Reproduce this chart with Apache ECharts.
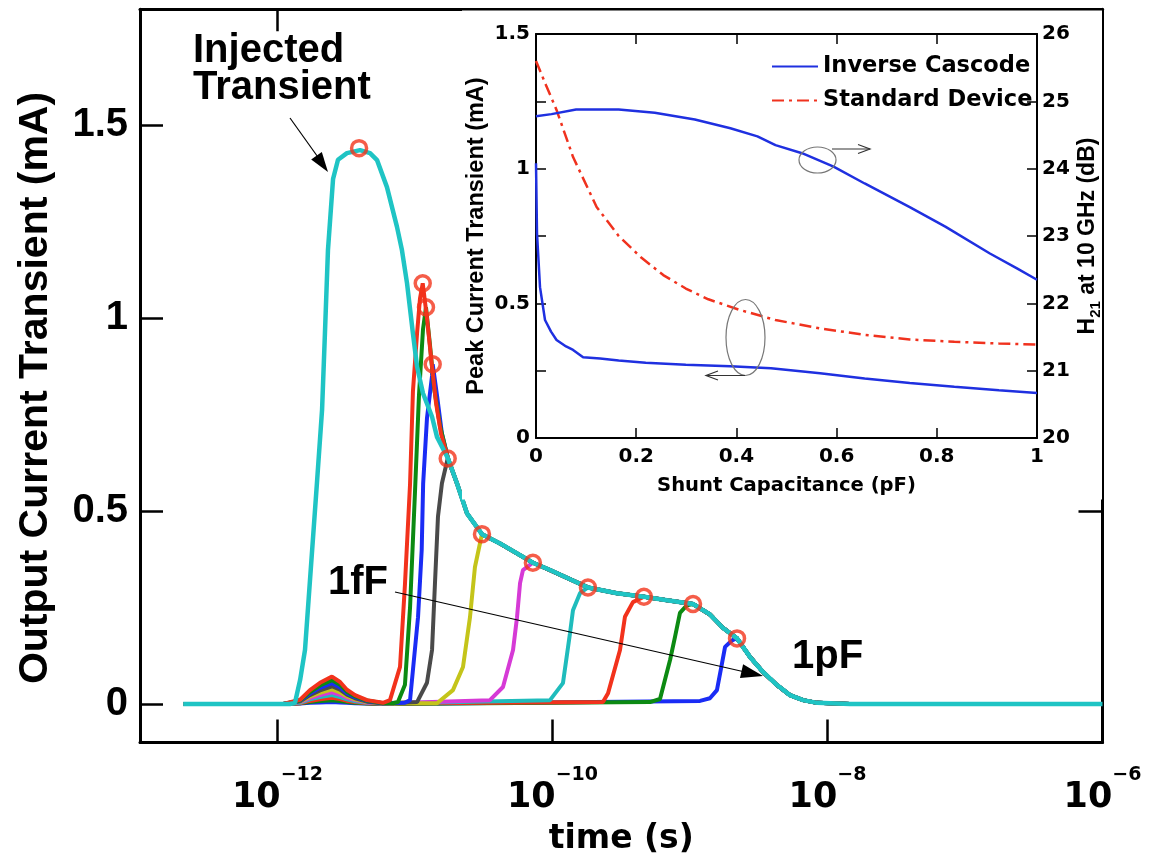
<!DOCTYPE html>
<html><head><meta charset="utf-8">
<script src="https://cdn.jsdelivr.net/npm/echarts/dist/echarts.min.js"></script>
<style>html,body{margin:0;padding:0;background:#fff}#c{width:1163px;height:860px}</style>
</head><body><div id="c"></div>
<script>
// ---------------- main chart data (time in s, current in mA) ----------------
const timeTicks = [1e-12, 1e-10, 1e-8, 0.99999e-6];
const currentTicks = [0, 0.5, 1, 1.5];

const injectedHead = [[2.06e-13,0],[1.23e-12,0],[1.34e-12,0.003],[1.46e-12,0.062],[1.585e-12,0.14],[1.936e-12,0.573],[2.109e-12,0.762],[2.213e-12,0.96],[2.328e-12,1.176],[2.535e-12,1.36],[2.754e-12,1.41],[3.199e-12,1.427],[3.981e-12,1.435],[4.71e-12,1.427],[5.297e-12,1.409],[6.252e-12,1.339],[7.396e-12,1.236],[8.035e-12,1.176],[8.75e-12,1.09],[9.661e-12,0.96],[1.035e-11,0.874],[1.143e-11,0.805],[1.33e-11,0.744],[1.445e-11,0.692]];
const envelopeTail = [[1.738e-11,0.636],[2.018e-11,0.572],[2.388e-11,0.494],[3.069e-11,0.44],[4.15e-11,0.416],[7.211e-11,0.366],[9.594e-11,0.347],[1.811e-10,0.302],[2.944e-10,0.287],[4.624e-10,0.278],[6.808e-10,0.269],[1.052e-9,0.259],[1.396e-9,0.232],[1.738e-9,0.197],[2.198e-9,0.17],[2.729e-9,0.122],[3.396e-9,0.083],[4.295e-9,0.049],[5.333e-9,0.023],[6.637e-9,0.01],[8.395e-9,0.003],[1.459e-8,0]];
const injectedEnd = [[1e-6,0]];
const curveEnd = [[5.12e-8,0]];

const c1 = [[2.06e-13,0],[1.10e-12,0],[1.46e-12,0.011],[1.722e-12,0.036],[2.037e-12,0.055],[2.489e-12,0.071],[2.851e-12,0.057],[3.199e-12,0.037],[3.664e-12,0.023],[4.477e-12,0.010],[5.848e-12,0.003],[6.577e-12,0.01],[7.78e-12,0.096],[8.453e-12,0.31],[9.204e-12,0.57],[9.661e-12,0.81],[1.035e-11,0.96],[1.087e-11,1.05],[1.138e-11,1.09],[1.222e-11,1.0],[1.306e-11,0.9],[1.422e-11,0.78],[1.545e-11,0.70]];
const c2 = [[2.06e-13,0],[1.10e-12,0],[1.46e-12,0.009],[1.722e-12,0.031],[2.037e-12,0.048],[2.489e-12,0.062],[2.851e-12,0.050],[3.199e-12,0.032],[3.664e-12,0.020],[4.477e-12,0.009],[5.848e-12,0.002],[6.918e-12,0.002],[7.516e-12,0.005],[8.453e-12,0.05],[9.204e-12,0.25],[1.0e-11,0.55],[1.069e-11,0.8],[1.143e-11,0.97],[1.202e-11,1.028],[1.285e-11,0.93],[1.374e-11,0.82],[1.521e-11,0.72]];
const c3 = [[2.06e-13,0],[1.10e-12,0],[1.46e-12,0.008],[1.722e-12,0.027],[2.037e-12,0.042],[2.489e-12,0.054],[2.851e-12,0.043],[3.199e-12,0.028],[3.664e-12,0.017],[4.477e-12,0.008],[5.848e-12,0.002],[8.453e-12,0.003],[9.204e-12,0.01],[1.052e-11,0.225],[1.119e-11,0.4],[1.146e-11,0.57],[1.222e-11,0.74],[1.33e-11,0.85],[1.345e-11,0.88],[1.445e-11,0.80],[1.570e-11,0.70]];
const c4 = [[2.06e-13,0],[1.10e-12,0],[1.46e-12,0.007],[1.722e-12,0.023],[2.037e-12,0.035],[2.489e-12,0.046],[2.851e-12,0.037],[3.199e-12,0.024],[3.664e-12,0.015],[4.477e-12,0.006],[5.848e-12,0.002],[1.035e-11,0.005],[1.222e-11,0.055],[1.33e-11,0.14],[1.396e-11,0.31],[1.469e-11,0.485],[1.570e-11,0.572],[1.729e-11,0.636]];
const c5 = [[2.06e-13,0],[1.10e-12,0],[1.46e-12,0.006],[1.722e-12,0.019],[2.037e-12,0.029],[2.489e-12,0.038],[2.851e-12,0.030],[3.199e-12,0.020],[3.664e-12,0.012],[4.477e-12,0.005],[5.848e-12,0.002],[1.445e-11,0.002],[1.888e-11,0.036],[2.234e-11,0.096],[2.512e-11,0.225],[2.729e-11,0.355],[2.972e-11,0.417],[3.069e-11,0.44]];
const c6 = [[2.06e-13,0],[1.10e-12,0],[1.46e-12,0.005],[1.722e-12,0.015],[2.037e-12,0.023],[2.489e-12,0.030],[2.851e-12,0.024],[3.199e-12,0.016],[3.664e-12,0.010],[4.477e-12,0.004],[5.848e-12,0.001],[3.508e-11,0.01],[4.365e-11,0.044],[5.164e-11,0.14],[5.521e-11,0.225],[5.808e-11,0.313],[6.095e-11,0.347],[7.211e-11,0.366]];
const c7 = [[2.06e-13,0],[1.10e-12,0],[1.46e-12,0.003],[1.722e-12,0.012],[2.037e-12,0.018],[2.489e-12,0.023],[2.851e-12,0.018],[3.199e-12,0.012],[3.664e-12,0.007],[4.477e-12,0.003],[5.848e-12,0.001],[9.594e-11,0.01],[1.191e-10,0.054],[1.34e-10,0.183],[1.409e-10,0.243],[1.585e-10,0.287],[1.811e-10,0.302]];
const c8 = [[2.06e-13,0],[1.10e-12,0],[1.46e-12,0.002],[1.722e-12,0.008],[2.037e-12,0.012],[2.489e-12,0.016],[2.851e-12,0.013],[3.199e-12,0.008],[3.664e-12,0.005],[4.477e-12,0.002],[5.848e-12,0.001],[2.328e-10,0.005],[2.535e-10,0.028],[3.097e-10,0.14],[3.365e-10,0.226],[3.846e-10,0.264],[4.624e-10,0.278]];
const c9 = [[2.06e-13,0],[1.10e-12,0],[1.46e-12,0.002],[1.722e-12,0.005],[2.037e-12,0.008],[2.489e-12,0.010],[2.851e-12,0.008],[3.199e-12,0.005],[3.664e-12,0.003],[4.477e-12,0.001],[5.848e-12,0],[5.117e-10,0.005],[6.053e-10,0.013],[7.161e-10,0.114],[7.78e-10,0.174],[8.453e-10,0.236],[9.506e-10,0.256],[1.052e-9,0.259]];
const c10 = [[2.06e-13,0],[1.10e-12,0],[1.46e-12,0.001],[1.722e-12,0.003],[2.037e-12,0.004],[2.489e-12,0.005],[2.851e-12,0.004],[3.199e-12,0.003],[3.664e-12,0.002],[4.477e-12,0.001],[5.848e-12,0],[1.183e-9,0.008],[1.396e-9,0.015],[1.57e-9,0.036],[1.71e-9,0.106],[1.799e-9,0.148],[1.954e-9,0.16],[2.056e-9,0.166],[2.198e-9,0.17]];

const curveHeads = [c1, c2, c3, c4, c5, c6, c7, c8, c9, c10];
const curveColors = ['#f2321c', '#0c8a12', '#1a2cf5', '#4a4a4a', '#c4c41a', '#d63ad6', '#1fbcbc', '#f2321c', '#0c8a12', '#1a2cf5'];

const peakTimes = [3.92e-12, 1.138e-11, 1.202e-11, 1.345e-11, 1.729e-11, 3.069e-11, 7.2e-11, 1.811e-10, 4.624e-10, 1.052e-9, 2.198e-9];
const peakValues = [1.44, 1.09, 1.028, 0.88, 0.636, 0.44, 0.366, 0.302, 0.278, 0.259, 0.17];

// ---------------- inset data ----------------
const capLower = [0, 0.002, 0.008, 0.018, 0.03, 0.041, 0.06, 0.074, 0.094, 0.128, 0.165, 0.219, 0.299, 0.388, 0.469, 0.567, 0.656, 0.746, 0.835, 0.924, 1.0];
const peakLower = [1.02, 0.76, 0.56, 0.438, 0.395, 0.364, 0.34, 0.327, 0.30, 0.295, 0.288, 0.279, 0.272, 0.266, 0.259, 0.24, 0.221, 0.204, 0.19, 0.177, 0.167];
const capUpper = [0, 0.031, 0.08, 0.165, 0.237, 0.317, 0.388, 0.442, 0.478, 0.531, 0.594, 0.656, 0.746, 0.817, 0.906, 0.96, 1.0];
const h21 = [24.78, 24.81, 24.88, 24.88, 24.83, 24.73, 24.6, 24.48, 24.35, 24.23, 24.03, 23.78, 23.43, 23.14, 22.74, 22.52, 22.35];
const capStd = [0, 0.02, 0.041, 0.074, 0.121, 0.165, 0.21, 0.254, 0.299, 0.344, 0.406, 0.478, 0.567, 0.656, 0.746, 0.835, 0.924, 1.0];
const peakStd = [1.40, 1.31, 1.218, 1.043, 0.858, 0.75, 0.67, 0.605, 0.555, 0.515, 0.476, 0.438, 0.407, 0.383, 0.366, 0.357, 0.351, 0.347];

// ---------------- build ----------------
const zip = (xs, ys) => xs.map((x, i) => [x, ys[i]]);
const ARIAL = "'Liberation Sans', Arial, Helvetica, sans-serif";
const DEJA = "'DejaVu Sans', Verdana, sans-serif";

const series = [];
// colored curves: larger capacitance drawn first, so the 1fF curve lies on top
for (let k = curveHeads.length - 1; k >= 0; k--) {
  const head = curveHeads[k];
  const lastT = head[head.length - 1][0];
  const data = head.concat(envelopeTail.filter(p => p[0] > lastT), curveEnd);
  series.push({
    type: 'line', xAxisIndex: 0, yAxisIndex: 0, data: data, symbol: 'none', z: 2,
    lineStyle: { color: curveColors[k], width: 4 }, itemStyle: { color: curveColors[k] }, silent: true
  });
}
series.push({
  type: 'line', xAxisIndex: 0, yAxisIndex: 0, data: injectedHead.concat(envelopeTail, injectedEnd),
  symbol: 'none', z: 2, lineStyle: { color: '#1fc4c4', width: 4.5 }, silent: true
});
series.push({
  type: 'scatter', xAxisIndex: 0, yAxisIndex: 0, data: zip(peakTimes, peakValues), z: 2,
  symbol: 'circle', symbolSize: 15,
  itemStyle: { color: 'rgba(255,255,255,0)', borderColor: '#f3341c', borderWidth: 3.5 }, silent: true
});
// inset series
series.push({
  name: 'Inverse Cascode', type: 'line', xAxisIndex: 2, yAxisIndex: 2, data: zip(capLower, peakLower),
  symbol: 'none', z: 5, lineStyle: { color: '#1f30e0', width: 2.5 }, itemStyle: { color: '#1f30e0' }
});
series.push({
  name: 'Standard Device', type: 'line', xAxisIndex: 2, yAxisIndex: 2, data: zip(capStd, peakStd),
  symbol: 'none', z: 5, lineStyle: { color: '#f0321e', width: 2.5, type: [12, 5, 3, 5] }, itemStyle: { color: '#f0321e' }
});
series.push({
  name: 'Inverse Cascode', type: 'line', xAxisIndex: 2, yAxisIndex: 3, data: zip(capUpper, h21),
  symbol: 'none', z: 5, lineStyle: { color: '#1f30e0', width: 2.5 }, itemStyle: { color: '#1f30e0' }
});

const blk = '#000';
const mainLine = { show: true, onZero: false, lineStyle: { color: blk, width: 3 } };
const insetLine = { show: true, onZero: false, lineStyle: { color: blk, width: 2 } };

const option = {
  animation: false,
  backgroundColor: '#fff',
  grid: [
    { left: 140, top: 9.2, width: 962.5, height: 733.4, outerBoundsMode: 'none', containLabel: false },
    { left: 536, top: 34, width: 501, height: 404, outerBoundsMode: 'none', containLabel: false, z: 4 }
  ],
  legend: {
    z: 8, left: 766, top: 50, orient: 'vertical', itemWidth: 46, itemHeight: 12, itemGap: 11,
    data: ['Inverse Cascode', 'Standard Device'],
    itemStyle: { opacity: 0, borderWidth: 0 },
    textStyle: { fontFamily: DEJA, fontWeight: 'bold', fontSize: 22.5, color: blk },
    selectedMode: false
  },
  xAxis: [
    { type: 'log', gridIndex: 0, logBase: 10, min: 1e-13, max: 1e-6, position: 'bottom',
      axisLine: mainLine, splitLine: { show: false }, minorTick: { show: false },
      axisTick: { show: true, inside: true, length: 23, lineStyle: { color: blk, width: 2.5 }, customValues: timeTicks },
      axisLabel: { show: true, customValues: timeTicks, margin: 23,
        formatter: v => '{b|10}{s|\u2212' + Math.abs(Math.round(Math.log10(v))) + '}',
        rich: {
          b: { fontFamily: DEJA, fontWeight: 'bold', fontSize: 35, color: blk, lineHeight: 64 },
          s: { fontFamily: DEJA, fontWeight: 'bold', fontSize: 19, color: blk, lineHeight: 20, verticalAlign: 'top' }
        } },
      name: 'time (s)', nameLocation: 'middle', nameGap: 80,
      nameTextStyle: { fontFamily: DEJA, fontWeight: 'bold', fontSize: 33, color: blk } },
    { type: 'log', gridIndex: 0, logBase: 10, min: 1e-13, max: 1e-6, position: 'top',
      axisLine: mainLine, splitLine: { show: false }, minorTick: { show: false },
      axisTick: { show: true, inside: true, length: 22, lineStyle: { color: blk, width: 2.5 }, customValues: timeTicks },
      axisLabel: { show: false } },
    { type: 'value', gridIndex: 1, min: 0, max: 1, interval: 0.2, position: 'bottom', z: 4,
      axisLine: insetLine, splitLine: { show: false },
      axisTick: { show: true, inside: true, length: 10, lineStyle: { color: blk, width: 1.5 } },
      axisLabel: { margin: 9, fontFamily: DEJA, fontWeight: 'bold', fontSize: 20, color: blk },
      name: 'Shunt Capacitance (pF)', nameLocation: 'middle', nameGap: 38,
      nameTextStyle: { fontFamily: DEJA, fontWeight: 'bold', fontSize: 19.6, color: blk } },
    { type: 'value', gridIndex: 1, min: 0, max: 1, interval: 0.2, position: 'top', z: 4,
      axisLine: insetLine, splitLine: { show: false },
      axisTick: { show: true, inside: true, length: 10, lineStyle: { color: blk, width: 1.5 } },
      axisLabel: { show: false } }
  ],
  yAxis: [
    { type: 'value', gridIndex: 0, min: -0.1, max: 1.8, position: 'left',
      axisLine: mainLine, splitLine: { show: false },
      axisTick: { show: true, inside: true, length: 23, lineStyle: { color: blk, width: 2.5 }, customValues: currentTicks },
      axisLabel: { customValues: currentTicks, margin: 12, fontFamily: ARIAL, fontWeight: 'bold', fontSize: 40, color: blk,
        formatter: v => String(v) } },
    { type: 'value', gridIndex: 0, min: -0.1, max: 1.8, position: 'right',
      axisLine: mainLine, splitLine: { show: false },
      axisTick: { show: true, inside: true, length: 24, lineStyle: { color: blk, width: 2.5 }, customValues: currentTicks },
      axisLabel: { show: false } },
    { type: 'value', gridIndex: 1, min: 0, max: 1.5, interval: 0.25, position: 'left', z: 4,
      axisLine: insetLine, splitLine: { show: false },
      axisTick: { show: true, inside: true, length: 10, lineStyle: { color: blk, width: 1.5 } },
      axisLabel: { margin: 6, fontFamily: DEJA, fontWeight: 'bold', fontSize: 20, color: blk,
        formatter: v => (Math.abs(v * 2 - Math.round(v * 2)) < 1e-9 ? String(v) : '') },
      name: 'Peak Current Transient (mA)', nameLocation: 'middle', nameGap: 47, nameRotate: 90,
      nameTextStyle: { fontFamily: ARIAL, fontWeight: 'bold', fontSize: 23.5, color: blk } },
    { type: 'value', gridIndex: 1, min: 20, max: 26, interval: 1, position: 'right', z: 4,
      axisLine: insetLine, splitLine: { show: false },
      axisTick: { show: true, inside: true, length: 10, lineStyle: { color: blk, width: 1.5 } },
      axisLabel: { margin: 5, fontFamily: DEJA, fontWeight: 'bold', fontSize: 20, color: blk },
      name: '{t|H}{s|21}{t| at 10 GHz (dB)}', nameLocation: 'middle', nameGap: 36, nameRotate: 90,
      nameTextStyle: { color: blk, rich: {
        t: { fontFamily: ARIAL, fontWeight: 'bold', fontSize: 23, color: blk, lineHeight: 30 },
        s: { fontFamily: ARIAL, fontWeight: 'bold', fontSize: 15, color: blk, lineHeight: 15, verticalAlign: 'bottom' }
      } } }
  ],
  series: series
};

const chart = echarts.init(document.getElementById('c'), null, { renderer: 'canvas' });
chart.setOption(option);

// ---------------- annotations ----------------
function arrowHead(x1, y1, x2, y2, len, half) {
  const a = Math.atan2(y2 - y1, x2 - x1);
  const bx = x2 - len * Math.cos(a), by = y2 - len * Math.sin(a);
  return [[x2, y2], [bx + half * Math.sin(a), by - half * Math.cos(a)], [bx - half * Math.sin(a), by + half * Math.cos(a)]];
}
function openHead(x1, y1, x2, y2, len, half) {
  const p = arrowHead(x1, y1, x2, y2, len, half);
  return [p[1], p[0], p[2]];
}
const labelFont = 'bold 40px ' + ARIAL;
chart.setOption({
  graphic: { elements: [
    { type: 'rect', z: 3, silent: true, shape: { x: 462, y: 10.5, width: 640, height: 489 }, style: { fill: '#fff' } },
    // main y title
    { type: 'text', z: 10, x: 36, y: 388, rotation: Math.PI / 2,
      style: { text: 'Output Current Transient (mA)', font: 'bold 41px ' + ARIAL, fill: blk, align: 'center', verticalAlign: 'middle' } },
    // Injected transient label + arrow
    { type: 'text', z: 10, x: 193, y: 51, style: { text: 'Injected', font: labelFont, fill: blk, align: 'left', verticalAlign: 'middle' } },
    { type: 'text', z: 10, x: 193, y: 88, style: { text: 'Transient', font: labelFont, fill: blk, align: 'left', verticalAlign: 'middle' } },
    { type: 'line', z: 10, shape: { x1: 290, y1: 118, x2: 320, y2: 160 }, style: { stroke: blk, lineWidth: 1.2 } },
    { type: 'polygon', z: 10, shape: { points: arrowHead(290, 118, 328, 172, 20, 6.5) }, style: { fill: blk } },
    // 1fF -> 1pF
    { type: 'text', z: 10, x: 328, y: 583, style: { text: '1fF', font: labelFont, fill: blk, align: 'left', verticalAlign: 'middle' } },
    { type: 'text', z: 10, x: 792, y: 657, style: { text: '1pF', font: labelFont, fill: blk, align: 'left', verticalAlign: 'middle' } },
    { type: 'line', z: 10, shape: { x1: 395, y1: 592, x2: 745, y2: 672 }, style: { stroke: blk, lineWidth: 1.2 } },
    { type: 'polygon', z: 10, shape: { points: arrowHead(395, 592, 763, 676, 22, 7) }, style: { fill: blk } },
    // inset ellipses and arrows
    { type: 'ellipse', z: 9, shape: { cx: 817.5, cy: 160, rx: 18.5, ry: 13 }, style: { fill: null, stroke: '#777', lineWidth: 1.2 } },
    { type: 'line', z: 9, shape: { x1: 832, y1: 149, x2: 870, y2: 149 }, style: { stroke: '#333', lineWidth: 1.2 } },
    { type: 'polyline', z: 9, shape: { points: openHead(832, 149, 870, 149, 12, 4.5) }, style: { stroke: '#333', lineWidth: 1.2, fill: null } },
    { type: 'ellipse', z: 9, shape: { cx: 745.5, cy: 337.5, rx: 19.5, ry: 38 }, style: { fill: null, stroke: '#777', lineWidth: 1.2 } },
    { type: 'line', z: 9, shape: { x1: 745, y1: 375.5, x2: 706, y2: 375.5 }, style: { stroke: '#333', lineWidth: 1.2 } },
    { type: 'polyline', z: 9, shape: { points: openHead(745, 375.5, 706, 375.5, 12, 4.5) }, style: { stroke: '#333', lineWidth: 1.2, fill: null } }
  ] }
});
</script></body></html>
